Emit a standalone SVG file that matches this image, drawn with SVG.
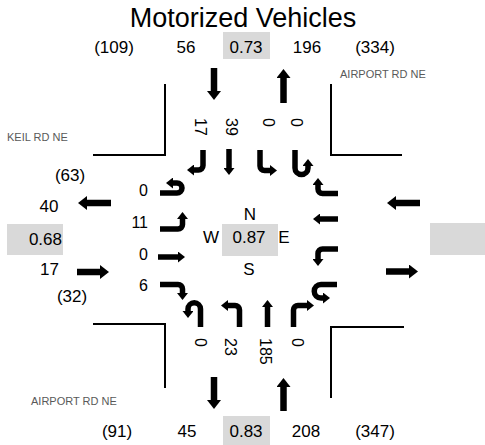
<svg xmlns="http://www.w3.org/2000/svg" width="485" height="445" viewBox="0 0 485 445">
<style>
text{font-family:"Liberation Sans",Arial,sans-serif;fill:#000}
.t{font-size:27px}
.n{font-size:17px}
.l{font-size:16px}
.r{font-size:11px;fill:#595959}
.box{fill:#d9d9d9}
.c{fill:none;stroke:#000;stroke-width:2}
.a{fill:none;stroke:#000;stroke-width:5.5;marker-end:url(#ah)}
.A{fill:none;stroke:#000;stroke-width:6.5;marker-end:url(#AH)}
</style>
<defs>
<marker id="ah" viewBox="0 0 7 11" refX="0" refY="5.5" markerWidth="7" markerHeight="11" markerUnits="userSpaceOnUse" orient="auto"><path d="M0,0 L7,5.5 L0,11 z" fill="#000"/></marker>
<marker id="AH" viewBox="0 0 9 14" refX="0" refY="7" markerWidth="9" markerHeight="14" markerUnits="userSpaceOnUse" orient="auto"><path d="M0,0 L9,7 L0,14 z" fill="#000"/></marker>
</defs>
<rect width="485" height="445" fill="#fff"/>
<text class="t" x="243" y="27" text-anchor="middle">Motorized Vehicles</text>
<g id="curbs">
<path class="c" d="M165,84 V155 H93"/>
<path class="c" d="M331,84 V155 H402"/>
<path class="c" d="M93,324 H165 V388"/>
<path class="c" d="M404,327 H331 V398"/>
</g>
<g id="street-names">
<text class="r" x="340" y="78">AIRPORT RD NE</text>
<text class="r" x="7" y="141">KEIL RD NE</text>
<text class="r" x="31" y="405">AIRPORT RD NE</text>
</g>
<g id="north">
<rect class="box" x="223" y="32" width="47" height="27"/>
<text class="n" x="114" y="53" text-anchor="middle">(109)</text>
<text class="n" x="186" y="53" text-anchor="middle">56</text>
<text class="n" x="246" y="53" text-anchor="middle">0.73</text>
<text class="n" x="307" y="53" text-anchor="middle">196</text>
<text class="n" x="375" y="53" text-anchor="middle">(334)</text>
<text class="l" transform="translate(195,118) rotate(90)">17</text>
<text class="l" transform="translate(226,118) rotate(90)">39</text>
<text class="l" transform="translate(263,118) rotate(90)">0</text>
<text class="l" transform="translate(291,118) rotate(90)">0</text>
</g>
<g id="south">
<rect class="box" x="223" y="416" width="47" height="29"/>
<text class="n" x="117" y="437" text-anchor="middle">(91)</text>
<text class="n" x="187" y="437" text-anchor="middle">45</text>
<text class="n" x="246" y="437" text-anchor="middle">0.83</text>
<text class="n" x="306" y="437" text-anchor="middle">208</text>
<text class="n" x="375" y="437" text-anchor="middle">(347)</text>
<text class="l" transform="translate(195,338) rotate(90)">0</text>
<text class="l" transform="translate(225,338) rotate(90)">23</text>
<text class="l" transform="translate(260,338) rotate(90)">185</text>
<text class="l" transform="translate(292,338) rotate(90)">0</text>
</g>
<g id="west">
<rect class="box" x="7" y="224" width="56" height="31"/>
<text class="n" x="70" y="181" text-anchor="middle">(63)</text>
<text class="n" x="49" y="212" text-anchor="middle">40</text>
<text class="n" x="62" y="245" text-anchor="end">0.68</text>
<text class="n" x="49.5" y="275" text-anchor="middle">17</text>
<text class="n" x="72" y="302" text-anchor="middle">(32)</text>
<text class="l" x="148" y="196" text-anchor="end">0</text>
<text class="l" x="148" y="228" text-anchor="end">11</text>
<text class="l" x="148" y="260" text-anchor="end">0</text>
<text class="l" x="148" y="291" text-anchor="end">6</text>
</g>
<g id="east">
<rect class="box" x="430" y="223" width="55" height="32"/>
</g>
<g id="center">
<rect class="box" x="222" y="224" width="56" height="32"/>
<text class="n" x="250" y="220" text-anchor="middle">N</text>
<text class="n" x="211" y="243" text-anchor="middle">W</text>
<text class="n" x="249" y="243" text-anchor="middle">0.87</text>
<text class="n" x="284" y="243" text-anchor="middle">E</text>
<text class="n" x="249" y="275" text-anchor="middle">S</text>
</g>
<g id="connectors">
<path class="A" d="M214,68 V91"/>
<path class="A" d="M283.5,103 V78"/>
<path class="A" d="M214,377 V400"/>
<path class="A" d="M283.5,411 V387"/>
<path class="A" d="M111,203 H87"/>
<path class="A" d="M77,272 H100"/>
<path class="A" d="M420,203 H396"/>
<path class="A" d="M386,271.5 H409"/>
<path class="a" d="M160,193 H177 A5,5 0 0 0 177,183 H173"/>
<path class="a" d="M160,229 H178 A4.5,4.5 0 0 0 182.5,224.5 V219"/>
<path class="a" d="M158,257 H178"/>
<path class="a" d="M160,284.5 H178 A4.5,4.5 0 0 1 182.5,289 V293"/>
<path class="a" d="M203,150 V165.5 A4.5,4.5 0 0 1 198.5,170 H194"/>
<path class="a" d="M229,149 V168"/>
<path class="a" d="M260,150 V166 A4.5,4.5 0 0 0 264.5,170.5 H270"/>
<path class="a" d="M295,150 V168 A6.5,6.5 0 0 0 308,168 V166"/>
<path class="a" d="M338,193.5 H322.5 A4.5,4.5 0 0 1 318,189 V185"/>
<path class="a" d="M338,219 H320"/>
<path class="a" d="M338,249 H322.5 A4.5,4.5 0 0 0 318,253.5 V259"/>
<path class="a" d="M337,284.5 H321 A6.75,6.75 0 0 0 321,298 H323"/>
<path class="a" d="M200.5,327 V309 A6.25,6.25 0 0 0 188,309 V311"/>
<path class="a" d="M239.5,327 V310 A4.5,4.5 0 0 0 235,305.5 H228"/>
<path class="a" d="M267.5,327 V307"/>
<path class="a" d="M293.5,327 V310 A4.5,4.5 0 0 1 298,305.5 H307"/>
</g>
</svg>
